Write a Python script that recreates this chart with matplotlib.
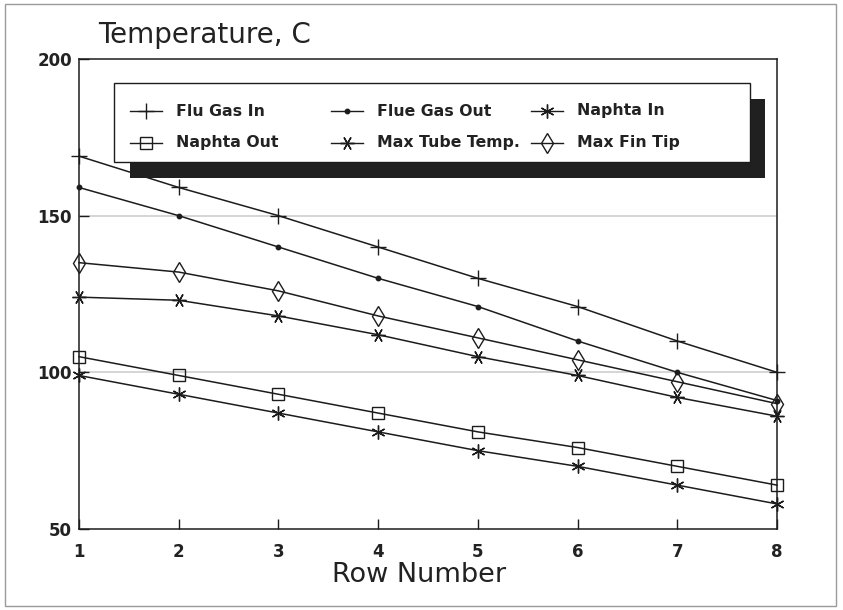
"""Row temperature profile: flue gas, naphtha, tube and fin tip temperatures."""
import matplotlib
matplotlib.use("Agg")
import matplotlib.pyplot as plt
from matplotlib.lines import Line2D
from matplotlib.patches import Rectangle

rows = [1, 2, 3, 4, 5, 6, 7, 8]
flu_gas_in = [169, 159, 150, 140, 130, 121, 110, 100]
flue_gas_out = [159, 150, 140, 130, 121, 110, 100, 91]
naphta_in = [99, 93, 87, 81, 75, 70, 64, 58]
naphta_out = [105, 99, 93, 87, 81, 76, 70, 64]
max_tube_temp = [124, 123, 118, 112, 105, 99, 92, 86]
max_fin_tip = [135, 132, 126, 118, 111, 104, 97, 90]

y_ticks = [50, 100, 150, 200]

W, H = 843, 610
INK = "#1c1c1c"


def fx(px):
    return px / W


def fy(py):
    return 1 - py / H


series = [
    ("Flu Gas In", flu_gas_in, dict(marker="+", ms=11, mew=1.0)),
    ("Flue Gas Out", flue_gas_out, dict(marker="o", ms=3.2, mfc=INK)),
    ("Naphta In", naphta_in, dict(marker=(6, 2, 0), ms=10, mew=1.0)),
    ("Naphta Out", naphta_out, dict(marker="s", ms=9, mfc="none", mew=1.0)),
    ("Max Tube Temp.", max_tube_temp, dict(marker=(6, 2, 90), ms=10, mew=1.0)),
    ("Max Fin Tip", max_fin_tip, dict(marker="d", ms=10, mfc="none", mew=1.0)),
]

fig = plt.figure(figsize=(W / 100, H / 100), dpi=100)
fig.patch.set_facecolor("white")
ax = fig.add_axes([fx(79), fy(529), fx(777) - fx(79), fy(59) - fy(529)])

for name, values, style in series:
    ax.plot(rows, values, color=INK, lw=1.1, mec=INK, clip_on=False, zorder=3, **style)

# faint horizontal grid at the inner ticks
for v in y_ticks[1:-1]:
    ax.axhline(v, color="#d2d2d2", lw=1.3, zorder=1)

ax.set_xlim(1, 8)
ax.set_ylim(50, 200)
ax.set_xticks(rows)
ax.set_yticks(y_ticks)
ax.tick_params(direction="in", length=7, width=1, color=INK)
ax.tick_params(axis="x", pad=10)
ax.tick_params(axis="y", pad=5)
for lab in ax.get_xticklabels() + ax.get_yticklabels():
    lab.set_fontfamily("DejaVu Sans")
    lab.set_fontweight("bold")
    lab.set_fontsize(12)
    lab.set_color("#222222")
for s in ax.spines.values():
    s.set_color(INK)
    s.set_linewidth(1.1)

fig.text(fx(98), fy(43), "Temperature, C", family="DejaVu Sans", fontsize=20,
         color="#222222", va="baseline", ha="left")
fig.text(fx(419), fy(582), "Row Number", family="DejaVu Sans", fontsize=19.5,
         color="#222222", va="baseline", ha="center")

# legend box with heavy drop shadow
fig.add_artist(Rectangle((fx(130), fy(178)), fx(765) - fx(130), fy(99) - fy(178),
                         transform=fig.transFigure, facecolor="#202020",
                         edgecolor="none", zorder=5))
fig.add_artist(Rectangle((fx(114), fy(162)), fx(750) - fx(114), fy(83) - fy(162),
                         transform=fig.transFigure, facecolor="white",
                         edgecolor=INK, lw=1.0, zorder=6))

col_x = [130, 331, 531]
row_y = [111, 143]
for i, (name, _, style) in enumerate(series):
    cx = col_x[i % 3]
    cy = row_y[i // 3]
    fig.add_artist(Line2D([fx(cx), fx(cx + 32)], [fy(cy), fy(cy)],
                          transform=fig.transFigure, color=INK, lw=1.0, zorder=7))
    fig.add_artist(Line2D([fx(cx + 16)], [fy(cy)], transform=fig.transFigure,
                          color=INK, mec=INK, lw=0, zorder=7, **style))
    fig.text(fx(cx + 46), fy(cy), name, family="DejaVu Sans", fontweight="bold",
             fontsize=11.3, color="#222222", va="center", ha="left", zorder=8)

# thin frame around the whole figure
fig.add_artist(Rectangle((fx(5), fy(606)), fx(836) - fx(5), fy(4) - fy(606),
                         transform=fig.transFigure, facecolor="none",
                         edgecolor="#9a9a9a", lw=1.0, zorder=0))

fig.savefig("out.png", dpi=100)
plt.close(fig)
